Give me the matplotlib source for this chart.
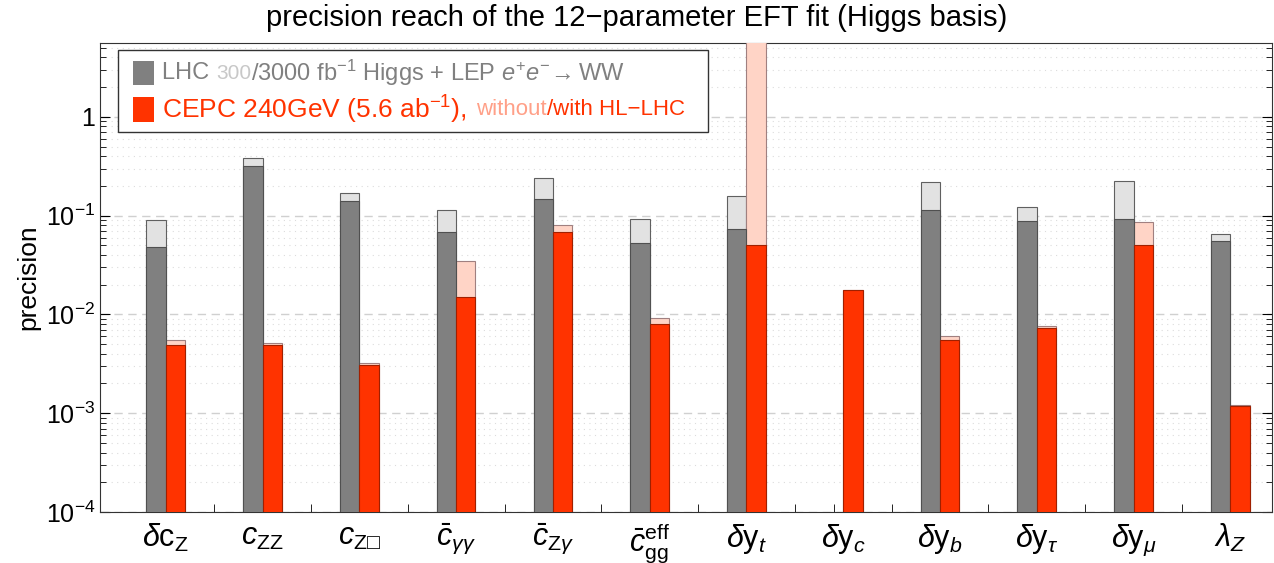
import matplotlib.pyplot as plt
import numpy as np
from matplotlib.patches import Rectangle
from matplotlib.ticker import LogLocator, NullFormatter, FixedLocator

plt.rcParams['font.family'] = ['Liberation Sans', 'DejaVu Sans']
plt.rcParams['mathtext.fontset'] = 'custom'
plt.rcParams['mathtext.rm'] = 'Liberation Sans'
plt.rcParams['mathtext.it'] = 'Liberation Sans:italic'
plt.rcParams['mathtext.bf'] = 'Liberation Sans:bold'

# parameters of the fit
labels = [r'$\delta\mathrm{c}_\mathrm{Z}$', r'$c_\mathrm{ZZ}$', r'$c_{\mathrm{Z□}}$',
          r'$\bar{c}_{\gamma\gamma}$', r'$\bar{c}_{\mathrm{Z}\gamma}$', r'$\bar{c}_{\mathrm{gg}}^{\mathrm{eff}}$',
          r'$\delta\mathrm{y}_t$', r'$\delta\mathrm{y}_c$', r'$\delta\mathrm{y}_b$',
          r'$\delta\mathrm{y}_\tau$', r'$\delta\mathrm{y}_\mu$', r'$\lambda_Z$']

# LHC 300 / 3000 fb^-1 (+ LEP WW)
lhc_300 = [0.091, 0.38, 0.17, 0.113, 0.24, 0.092, 0.157, np.nan, 0.22, 0.122, 0.222, 0.065]
lhc_3000 = [0.048, 0.32, 0.14, 0.069, 0.148, 0.053, 0.073, np.nan, 0.115, 0.089, 0.092, 0.055]
# CEPC 240 GeV without / with HL-LHC
cepc_alone = [0.0055, 0.0051, 0.0032, 0.035, 0.080, 0.0093, 20.0, 0.0175, 0.0060, 0.0077, 0.086, 0.0012]
cepc_hllhc = [0.0049, 0.0049, 0.0031, 0.015, 0.069, 0.0080, 0.050, 0.0175, 0.0055, 0.0072, 0.050, 0.00117]

gray_dark = '#808080'
gray_light = '#e2e2e2'
red_dark = '#ff3300'
red_light = '#ffd4c6'

fig = plt.figure(figsize=(12.74, 5.63), dpi=100)
ax = fig.add_axes([0.0785, 0.0906, 0.9199, 0.833])

x = np.arange(len(labels))
w = 0.2
ax.bar(x - w / 2, lhc_300, w, bottom=1e-5, color=gray_light, edgecolor='#606060', linewidth=0.8, zorder=3)
ax.bar(x - w / 2, lhc_3000, w, bottom=1e-5, color=gray_dark, edgecolor='#505050', linewidth=0.8, zorder=4)
ax.bar(x + w / 2, cepc_alone, w, bottom=1e-5, color=red_light, edgecolor='#a08080', linewidth=0.8, zorder=3)
ax.bar(x + w / 2, cepc_hllhc, w, bottom=1e-5, color=red_dark, edgecolor='#a02000', linewidth=0.8, zorder=4)

ax.set_yscale('log')
ax.set_ylim(1e-4, 5.6)
ax.set_xlim(-0.68, 11.43)

# grid: dashed at decades, dotted at minor ticks
for e in range(-4, 1):
    ax.axhline(10.0 ** e, color='#d0d0d0', linestyle=(0, (6, 4)), linewidth=1.0, zorder=1)
    for m in range(2, 10):
        v = m * 10.0 ** e
        if v < 5.6:
            ax.axhline(v, color='#dcdcdc', linestyle=(0, (1, 4)), linewidth=0.8, zorder=1)

ax.yaxis.set_minor_locator(LogLocator(base=10, subs=np.arange(2, 10), numticks=10))
ax.yaxis.set_minor_formatter(NullFormatter())
ax.set_yticks([1e-4, 1e-3, 1e-2, 1e-1, 1])
ax.set_yticklabels([r'$10^{-4}$', r'$10^{-3}$', r'$10^{-2}$', r'$10^{-1}$', '1'])
ax.tick_params(axis='y', which='major', direction='in', length=7, labelsize=18, right=True)
ax.tick_params(axis='y', which='minor', direction='in', length=4, right=True)

ax.set_xticks(x)
ax.set_xticklabels(labels, fontsize=22)
ax.xaxis.set_minor_locator(FixedLocator(list(np.arange(len(labels)) + 0.5) +
                                        list(x - w / 2) + list(x + w / 2)))
ax.tick_params(axis='x', which='major', length=0, pad=7)
ax.tick_params(axis='x', which='minor', direction='in', length=6)

ax.set_ylabel('precision', fontsize=19)
fig.text(0.5, 1 - 18 / 563, 'precision reach of the 12\u2212parameter EFT fit (Higgs basis)',
         fontsize=21, ha='center', va='center')

for s in ax.spines.values():
    s.set_color('#333333')

# legend box drawn by hand (multi-coloured text)
box = Rectangle((0.0155, 0.81), 0.503, 0.175, transform=ax.transAxes, facecolor='white',
                edgecolor='#333333', linewidth=1.0, zorder=10)
ax.add_patch(box)
ax.add_patch(Rectangle((0.028, 0.91), 0.018, 0.052, transform=ax.transAxes,
                       facecolor=gray_dark, edgecolor='none', zorder=11))
ax.add_patch(Rectangle((0.028, 0.832), 0.018, 0.052, transform=ax.transAxes,
                       facecolor=red_dark, edgecolor='none', zorder=11))

fig.canvas.draw()
renderer = fig.canvas.get_renderer()


def chain(parts, x0, y0):
    xx = x0
    for txt, col, fs in parts:
        t = ax.text(xx, y0, txt, color=col, fontsize=fs, transform=ax.transAxes,
                    va='center', ha='left', zorder=12)
        bb = t.get_window_extent(renderer=renderer)
        bb = bb.transformed(ax.transAxes.inverted())
        xx = bb.x1


chain([('LHC ', '#808080', 17), ('300', '#c8c8c8', 15),
       (r'/3000 fb$^{-1}$ Higgs + LEP $e^{+}e^{-}\!\rightarrow$WW', '#808080', 17)], 0.053, 0.936)
chain([(r'CEPC 240GeV (5.6 ab$^{-1}$),  ', red_dark, 19), ('without', '#ffa088', 16),
       ('/with HL\u2212LHC', red_dark, 16)], 0.053, 0.858)

fig.savefig('out.png', dpi=100)
